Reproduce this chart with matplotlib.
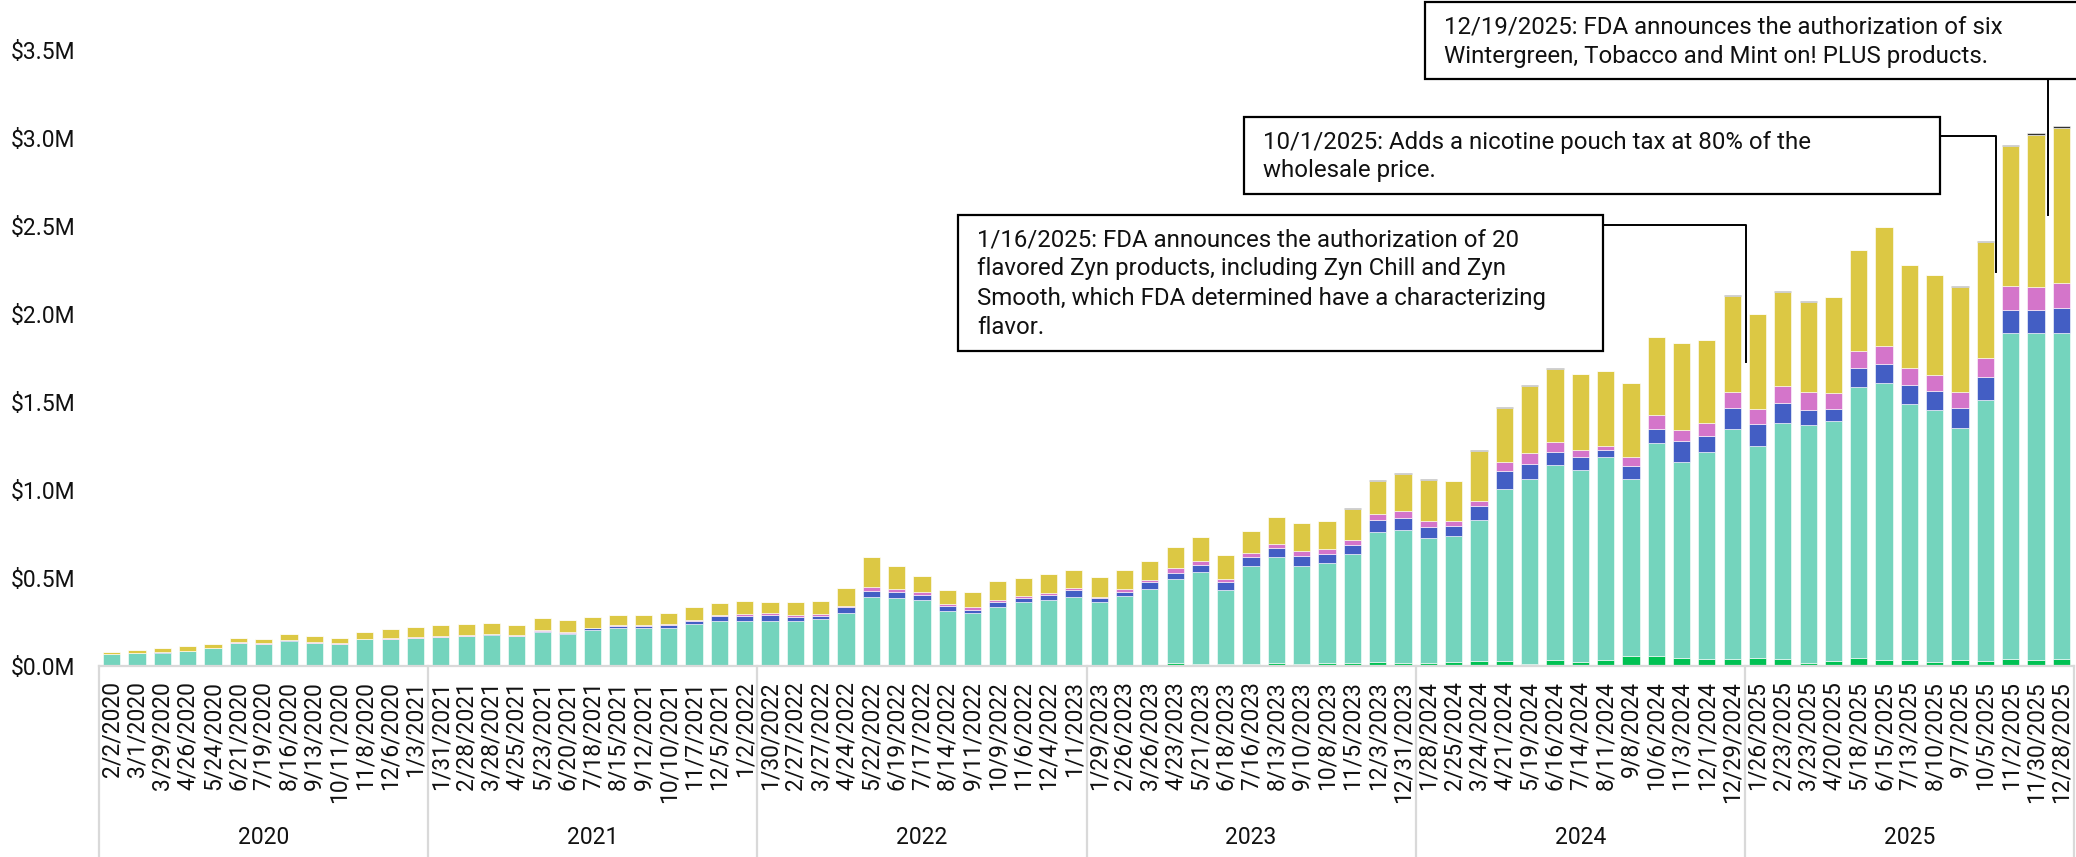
import matplotlib
matplotlib.use('Agg')
import matplotlib.pyplot as plt
from matplotlib.patches import Rectangle
from matplotlib.lines import Line2D
import numpy as np

plt.rcParams['font.family'] = ['Roboto', 'DejaVu Sans']

W, H, DPI = 2076, 857, 100

# ---------------- data ----------------
period_labels = [
    '2/2/2020', '3/1/2020', '3/29/2020', '4/26/2020', '5/24/2020', '6/21/2020', '7/19/2020',
    '8/16/2020', '9/13/2020', '10/11/2020', '11/8/2020', '12/6/2020', '1/3/2021',
    '1/31/2021', '2/28/2021', '3/28/2021', '4/25/2021', '5/23/2021', '6/20/2021', '7/18/2021',
    '8/15/2021', '9/12/2021', '10/10/2021', '11/7/2021', '12/5/2021', '1/2/2022',
    '1/30/2022', '2/27/2022', '3/27/2022', '4/24/2022', '5/22/2022', '6/19/2022', '7/17/2022',
    '8/14/2022', '9/11/2022', '10/9/2022', '11/6/2022', '12/4/2022', '1/1/2023',
    '1/29/2023', '2/26/2023', '3/26/2023', '4/23/2023', '5/21/2023', '6/18/2023', '7/16/2023',
    '8/13/2023', '9/10/2023', '10/8/2023', '11/5/2023', '12/3/2023', '12/31/2023',
    '1/28/2024', '2/25/2024', '3/24/2024', '4/21/2024', '5/19/2024', '6/16/2024', '7/14/2024',
    '8/11/2024', '9/8/2024', '10/6/2024', '11/3/2024', '12/1/2024', '12/29/2024',
    '1/26/2025', '2/23/2025', '3/23/2025', '4/20/2025', '5/18/2025', '6/15/2025', '7/13/2025',
    '8/10/2025', '9/7/2025', '10/5/2025', '11/2/2025', '11/30/2025', '12/28/2025',
]
years = ['2020', '2021', '2022', '2023', '2024', '2025']
periods_per_year = [13, 13, 13, 13, 13, 13]

# values in $ millions (stack order bottom -> top)
green = [
    .001, .001, .001, .001, .001, .001, .001, .001, .001, .001, .001, .001, .001,
    .001, .001, .001, .001, .002, .002, .002, .002, .002, .002, .002, .002, .003,
    .003, .003, .003, .006, .006, .008, .006, .006, .006, .008, .008, .008, .008,
    .008, .008, .008, .015, .013, .011, .010, .015, .011, .015, .019, .023, .019,
    .019, .025, .027, .027, .013, .032, .021, .032, .057, .057, .047, .038, .038,
    .044, .038, .019, .027, .044, .032, .032, .021, .032, .027, .038, .032, .038,
]
teal = [
    .065, .071, .075, .084, .099, .130, .122, .143, .130, .124, .152, .152, .156,
    .164, .168, .177, .168, .193, .182, .204, .216, .214, .212, .235, .256, .255,
    .255, .255, .264, .297, .384, .376, .367, .307, .295, .329, .354, .365, .382,
    .354, .390, .427, .479, .522, .422, .557, .602, .556, .572, .616, .740, .752,
    .710, .713, .804, .979, 1.050, 1.108, 1.091, 1.154, 1.005, 1.212, 1.113, 1.179, 1.307,
    1.207, 1.342, 1.352, 1.364, 1.543, 1.578, 1.457, 1.435, 1.322, 1.483, 1.855, 1.861, 1.855,
]
blue = [
    .001, .001, .001, .001, .001, .001, .002, .001, .001, .001, .001, .002, .002,
    .002, .002, .002, .002, .002, .005, .008, .011, .011, .017, .017, .024, .028,
    .030, .022, .017, .034, .038, .038, .032, .030, .019, .029, .026, .032, .039,
    .023, .025, .040, .035, .040, .044, .054, .054, .058, .051, .052, .068, .069,
    .063, .056, .079, .104, .087, .075, .078, .039, .072, .078, .120, .087, .120,
    .124, .115, .083, .069, .104, .107, .108, .109, .111, .133, .131, .127, .142,
]
pink = [
    .002, .002, .002, .002, .002, .002, .003, .002, .003, .003, .002, .004, .003,
    .004, .003, .004, .003, .006, .006, .002, .006, .006, .010, .005, .010, .009,
    .011, .010, .011, .006, .023, .017, .017, .011, .015, .011, .012, .012, .015,
    .009, .017, .012, .027, .023, .017, .023, .023, .027, .025, .028, .032, .039,
    .031, .029, .028, .050, .058, .058, .037, .026, .054, .078, .063, .078, .091,
    .087, .094, .104, .090, .100, .100, .094, .087, .091, .107, .135, .135, .141,
]
yellow = [
    .009, .014, .023, .028, .020, .023, .025, .035, .034, .032, .037, .053, .060,
    .060, .063, .058, .057, .068, .066, .062, .055, .057, .058, .078, .066, .076,
    .067, .074, .076, .098, .168, .127, .087, .080, .085, .104, .102, .106, .100,
    .110, .104, .107, .121, .135, .134, .122, .151, .158, .159, .178, .188, .214,
    .236, .226, .284, .306, .385, .416, .431, .424, .419, .444, .491, .469, .548,
    .537, .536, .513, .545, .572, .676, .585, .569, .600, .660, .793, .864, .882,
]
other = [
    0, 0, 0, 0, 0, 0, 0, 0, 0, 0, 0, 0, 0,
    0, 0, 0, 0, 0, 0, 0, 0, 0, 0, 0, 0, 0,
    0, 0, 0, 0, 0, 0, 0, 0, 0, 0, 0, 0, 0,
    0, 0, 0, 0, 0, .003, .003, .003, .003, .003, .003, .003, .003,
    .003, .003, .003, .003, .003, .003, .003, .003, .003, .003, .003, .003, .003,
    .003, .003, .003, .003, .003, .003, .003, .003, .003, .003, .008, .010, .011,
]
series = [green, teal, blue, pink, yellow, other]
series_colors = ['#00C153', '#74D4BD', '#435EC4', '#D475CA', '#DCC844', '#333333']

ytick_values = [0, 0.5, 1.0, 1.5, 2.0, 2.5, 3.0, 3.5]
ytick_labels = ['\\$0.0M', '\\$0.5M', '\\$1.0M', '\\$1.5M', '\\$2.0M', '\\$2.5M', '\\$3.0M', '\\$3.5M']

annotation_texts = [
    ['12/19/2025: FDA announces the authorization of six',
     'Wintergreen, Tobacco and Mint on! PLUS products.'],
    ['10/1/2025: Adds a nicotine pouch tax at 80% of the',
     'wholesale price.'],
    ['1/16/2025: FDA announces the authorization of 20',
     'flavored Zyn products, including Zyn Chill and Zyn',
     'Smooth, which FDA determined have a characterizing',
     'flavor.'],
]
annotation_x = [76.46, 74.40, 64.53]   # position on the period axis
annotation_y = [2.56, 2.24, 1.73]      # connector end value ($M)

# ---------------- layout (pixels) ----------------
AX_L, AX_R, AX_B = 99, 2074, 666
PX_PER_M = 176.0
FS = 16.5
FS_NOTE = 17.3

fig = plt.figure(figsize=(W / DPI, H / DPI), dpi=DPI)
ax = fig.add_axes([AX_L / W, (H - AX_B) / H, (AX_R - AX_L) / W, AX_B / H])

n = len(period_labels)
x = np.arange(n)
bottom = np.zeros(n)
for vals, col in zip(series, series_colors):
    v = np.array(vals, dtype=float)
    ax.bar(x, v, width=0.68, bottom=bottom, color=col, edgecolor='white',
           linewidth=0.4, zorder=2)
    bottom += v

ax.set_xlim(-0.5, n - 0.5)
ax.set_ylim(0, AX_B / PX_PER_M)

for s in ['top', 'right', 'left']:
    ax.spines[s].set_visible(False)
ax.spines['bottom'].set_color('#D9D9D9')
ax.spines['bottom'].set_linewidth(1.6)

ax.set_yticks(ytick_values, ytick_labels)
ax.tick_params(axis='y', length=0, pad=63.4, labelsize=FS, labelcolor='#111111')
for lab in ax.get_yticklabels():
    lab.set_horizontalalignment('left')

ax.set_xticks(x, period_labels, rotation=90)
ax.tick_params(axis='x', length=0, pad=11, labelsize=FS, labelcolor='#111111')

# year groups
ybot = -(H - AX_B) / PX_PER_M
bounds = np.concatenate([[0], np.cumsum(periods_per_year)]) - 0.5
for b in bounds:
    ax.plot([b, b], [0, ybot], color='#D9D9D9', lw=1.6, clip_on=False, zorder=1)
for i, yr in enumerate(years):
    cx = (bounds[i] + bounds[i + 1]) / 2
    ax.text(cx, -(837 - AX_B) / PX_PER_M, yr, ha='center', va='center',
            fontsize=FS, color='#111111', clip_on=False)

# ---------------- annotations ----------------
boxes = [(1425, 2, 2120, 79), (1244, 117, 1940, 194), (958, 215, 1603, 351)]
attach = ['bottom', 'right', 'right']
attach_y = [None, 136, 225]
first_line = [27, 142, 240]
line_step = 29

fig.canvas.draw()


def fxy(px, py):
    return px / W, 1 - py / H


for k in range(len(annotation_texts)):
    x0, y0, x1, y1 = boxes[k]
    rect = Rectangle(fxy(x0, y1), (x1 - x0) / W, (y1 - y0) / H, transform=fig.transFigure,
                     facecolor='white', edgecolor='black', linewidth=1.6, zorder=5)
    fig.add_artist(rect)
    for j, line in enumerate(annotation_texts[k]):
        tx, ty = fxy(x0 + 19, first_line[k] + j * line_step)
        fig.text(tx, ty, line, ha='left', va='center', fontsize=FS_NOTE, color='#111111', zorder=6)
    dx, dy = ax.transData.transform((annotation_x[k], annotation_y[k]))
    apx, apy = dx, H - dy
    if attach[k] == 'bottom':
        pts = [(apx, y1), (apx, apy)]
    else:
        pts = [(x1, attach_y[k]), (apx, attach_y[k]), (apx, apy)]
    xs = [p[0] / W for p in pts]
    ys = [1 - p[1] / H for p in pts]
    fig.add_artist(Line2D(xs, ys, transform=fig.transFigure, color='black', lw=1.4, zorder=4))

fig.savefig('out.png', dpi=DPI, facecolor='white')
